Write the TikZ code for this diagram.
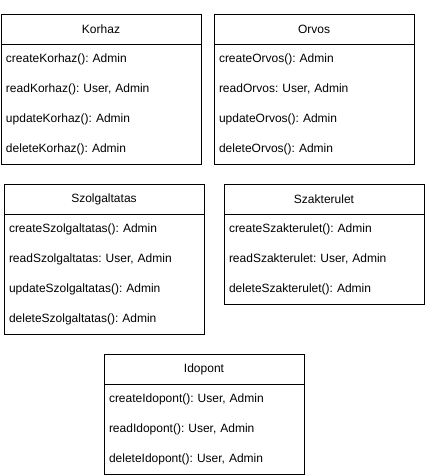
\documentclass[tikz,border=0pt]{standalone}
\usepackage{fontspec}
\setmainfont{Liberation Sans}
\usetikzlibrary{positioning}
\frenchspacing

\begin{document}
\begin{tikzpicture}[x=0.75pt,y=-0.75pt,line width=0.75pt]
		\tikzset{class head/.style={draw,minimum width=150pt,minimum height=22.5pt,inner sep=0pt,outer sep=0pt,font=\fontsize{9}{11}\selectfont},
			class row/.style={below=0pt of #1,minimum width=150pt,minimum height=22.5pt,text width=142.5pt,inner xsep=3.75pt,inner ysep=0pt,outer sep=0pt,align=left,font=\fontsize{9}{11}\selectfont}}

		\useasboundingbox (0,0) rectangle (425,475);

		% Korhaz
		\node [class head,anchor=north west] (Korhaz) at (1,14) {Korhaz};
		\node [class row=Korhaz] (Korhaz1) {createKorhaz(): Admin};
		\node [class row=Korhaz1] (Korhaz2) {readKorhaz(): User, Admin};
		\node [class row=Korhaz2] (Korhaz3) {updateKorhaz(): Admin};
		\node [class row=Korhaz3] (Korhaz4) {deleteKorhaz(): Admin};

		% Orvos
		\node [class head,anchor=north west] (Orvos) at (214,14) {Orvos};
		\node [class row=Orvos] (Orvos1) {createOrvos(): Admin};
		\node [class row=Orvos1] (Orvos2) {readOrvos: User, Admin};
		\node [class row=Orvos2] (Orvos3) {updateOrvos(): Admin};
		\node [class row=Orvos3] (Orvos4) {deleteOrvos(): Admin};

		% Szolgaltatas
		\node [class head,anchor=north west] (Szolg) at (4,184) {Szolgaltatas};
		\node [class row=Szolg] (Szolg1) {createSzolgaltatas(): Admin};
		\node [class row=Szolg1] (Szolg2) {readSzolgaltatas: User, Admin};
		\node [class row=Szolg2] (Szolg3) {updateSzolgaltatas(): Admin};
		\node [class row=Szolg3] (Szolg4) {deleteSzolgaltatas(): Admin};

		% Szakterulet
		\node [class head,anchor=north west] (Szakt) at (224,184) {Szakterulet};
		\node [class row=Szakt] (Szakt1) {createSzakterulet(): Admin};
		\node [class row=Szakt1] (Szakt2) {readSzakterulet: User, Admin};
		\node [class row=Szakt2] (Szakt3) {deleteSzakterulet(): Admin};

		% Idopont
		\node [class head,anchor=north west] (Idopont) at (104,354) {Idopont};
		\node [class row=Idopont] (Idopont1) {createIdopont(): User, Admin};
		\node [class row=Idopont1] (Idopont2) {readIdopont(): User, Admin};
		\node [class row=Idopont2] (Idopont3) {deleteIdopont(): User, Admin};

		\foreach \c/\last in {Korhaz/Korhaz4,Orvos/Orvos4,Szolg/Szolg4,Szakt/Szakt3,Idopont/Idopont3}
			\draw (\c.south west) rectangle (\last.south east);
	\end{tikzpicture}
\end{document}
